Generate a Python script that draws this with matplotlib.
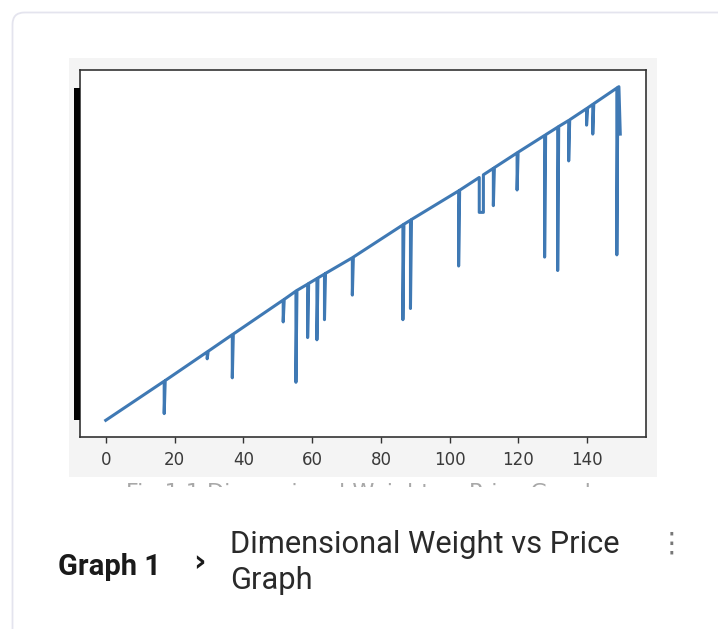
import matplotlib
matplotlib.use("Agg")
import matplotlib.pyplot as plt
from matplotlib.patches import Rectangle, FancyBboxPatch
from matplotlib.transforms import IdentityTransform

# Dimensional weight (x) and price (y).
# Drops are points that share (almost) the same weight as the main trend.
weight = [
    0.0, 17.0, 17.0, 17.3, 29.5, 29.5, 29.8, 36.8, 36.8, 37.1,
    51.6, 51.6, 51.9, 55.3, 55.3, 55.6, 58.7, 58.7, 59.0, 61.4,
    61.4, 61.7, 63.6, 63.6, 63.9, 71.7, 71.7, 72.0, 86.4, 86.4,
    86.7, 88.6, 88.6, 88.9, 102.6, 102.6, 102.9, 108.6, 108.6, 109.8,
    109.8, 112.7, 112.7, 113.0, 119.6, 119.6, 119.9, 127.6, 127.6, 127.9,
    131.4, 131.4, 131.7, 134.6, 134.6, 134.9, 139.8, 139.8, 140.1, 141.6,
    141.6, 141.9, 148.6, 148.6, 148.9, 149.2, 149.6,
]
price = [
    1.0, 18.5, 4.0, 18.8, 31.6, 28.5, 31.9, 39.3, 20.0, 39.6,
    54.8, 45.0, 55.1, 58.8, 18.0, 59.1, 61.9, 38.0, 62.2, 64.4,
    37.0, 64.7, 66.4, 46.0, 66.7, 73.7, 57.0, 74.0, 88.4, 46.0,
    88.7, 90.5, 51.0, 90.8, 103.6, 70.0, 103.9, 109.6, 94.0, 94.0,
    110.8, 113.7, 97.0, 114.0, 120.6, 104.0, 120.9, 128.4, 74.0, 128.7,
    132.1, 68.0, 132.4, 135.1, 117.0, 135.4, 140.4, 133.0, 140.7, 142.3,
    129.0, 142.6, 149.6, 75.0, 149.9, 150.2, 129.0,
]
xticks = [0, 20, 40, 60, 80, 100, 120, 140]

W, H = 718, 629
fig = plt.figure(figsize=(W / 100, H / 100), dpi=100)
fig.patch.set_facecolor("white")


def fx(x):
    return x / W


def fy(y):
    return 1 - y / H


# card outline (pixel coords, origin bottom-left)
card = FancyBboxPatch((12.5, -30), 760, H - 12.5 + 30,
                      boxstyle="round,pad=0,rounding_size=12",
                      transform=IdentityTransform(), facecolor="white",
                      edgecolor="#e4e4ee", lw=1.3, zorder=-2)
fig.patches.append(card)

# grey background of the embedded chart image
fig.patches.append(Rectangle((fx(69), fy(477)), fx(657) - fx(69), fy(58) - fy(477),
                             transform=fig.transFigure, facecolor="#f4f4f4",
                             edgecolor="none", zorder=-1))

ax = fig.add_axes([fx(80), fy(437), fx(646) - fx(80), fy(70) - fy(437)])
ax.set_zorder(1)
ax.set_facecolor("white")
ax.plot(weight, price, color="#3f79b4", lw=2.2)
ax.set_xticks(xticks)
ax.set_yticks([])
ax.tick_params(axis="x", labelsize=12, labelcolor="#3a3a3a", color="#333333",
               length=4, width=1, pad=6)
for s in ax.spines.values():
    s.set_color("#333333")
    s.set_linewidth(1.2)

# blacked-out y tick labels
fig.patches.append(Rectangle((fx(74), fy(420)), fx(80) - fx(74), fy(88) - fy(420),
                             transform=fig.transFigure, facecolor="black",
                             edgecolor="none", zorder=2))

# caption of the chart image, cut off so only the tops of letters show
fig.text(fx(362), fy(483), "Fig 1.1 Dimensional Weight vs Price Graph",
         ha="center", va="top", fontsize=16, color="#a8a8a8",
         family="DejaVu Sans", zorder=3)
fig.patches.append(Rectangle((fx(60), fy(520)), fx(665) - fx(60), fy(487) - fy(520),
                             transform=fig.transFigure, facecolor="white",
                             edgecolor="none", zorder=4))

# card footer
fig.text(fx(58), fy(575), "Graph 1", fontsize=21, fontweight="bold",
         family="Roboto", color="#1a1a1a", va="baseline", zorder=5)
fig.text(fx(193), fy(571), "\u203a", fontsize=22, fontweight="bold",
         family="DejaVu Sans", color="#1a1a1a", va="baseline", zorder=5)
fig.text(fx(230), fy(553), "Dimensional Weight vs Price", fontsize=22.2,
         family="Roboto", color="#2a2a2a", va="baseline", zorder=5)
fig.text(fx(230), fy(589), "Graph", fontsize=22.2,
         family="Roboto", color="#2a2a2a", va="baseline", zorder=5)
fig.text(fx(671), fy(544), "\u22ee", fontsize=20, family="DejaVu Sans",
         color="#777777", ha="center", va="center", zorder=5)

fig.savefig("out.png", dpi=100)
